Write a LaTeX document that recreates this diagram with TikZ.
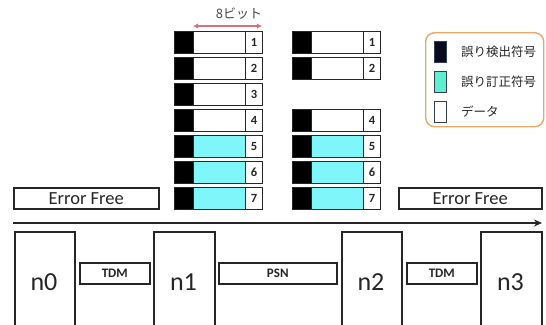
\documentclass[tikz,border=0pt]{standalone}
\usepackage{fontspec}
\setmainfont{Carlito}
\newfontfamily\jpfont{Noto Sans CJK JP}
\usetikzlibrary{arrows.meta}
\definecolor{ink}{HTML}{262626}
\definecolor{datacyan}{HTML}{7FF6F9}
\definecolor{legcyan}{HTML}{5EF0CC}
\definecolor{legblack}{HTML}{0A0A1E}
\definecolor{legedge}{HTML}{34405A}
\definecolor{legframe}{HTML}{E8A868}
\definecolor{bitarrow}{HTML}{D8707C}
\tikzset{
  cellbase/.style={draw=ink, line width=1.3pt, inner sep=0pt, anchor=north west, minimum height=22pt},
  cellblk/.style={cellbase, fill=black, minimum width=19pt},
  celldat/.style={cellbase, minimum width=52pt},
  cellnum/.style={cellbase, fill=white, minimum width=17pt, font=\fontsize{12.5}{12.5}\selectfont\bfseries, text=ink},
  wbox/.style={draw=ink, line width=1.5pt, fill=white, inner sep=0pt, anchor=north west},
  legsq/.style={draw=legedge, line width=1pt, inner sep=0pt, anchor=north west, minimum width=12pt, minimum height=21pt},
  legtxt/.style={anchor=west, inner sep=0pt, font=\jpfont\fontsize{12.5}{12.5}\selectfont, text=ink},
  nlabel/.style={font=\fontsize{26}{26}\selectfont, text=ink, inner sep=0pt},
  linkbox/.style={wbox, minimum height=21pt, font=\fontsize{13}{13}\selectfont\bfseries, text=ink},
  efbox/.style={wbox, minimum height=21pt, font=\fontsize{18.5}{18.5}\selectfont, text=ink},
}
\begin{document}
\begin{tikzpicture}[x=1pt,y=-1pt]
\useasboundingbox (0,0) rectangle (546,324);
\begin{scope}
\clip (0,0) rectangle (546,324);
% block A
\foreach \k/\f in {1/white,2/white,3/white,4/white,5/datacyan,6/datacyan,7/datacyan}{
  \pgfmathsetmacro\yy{31+26*(\k-1)}
  \node[cellblk] (ab\k) at (174,\yy) {};
  \node[celldat, fill=\f] (ad\k) at (193,\yy) {};
  \node[cellnum] (an\k) at (245,\yy) {\k};
}
% block B
\foreach \k/\f in {1/white,2/white,4/white,5/datacyan,6/datacyan,7/datacyan}{
  \pgfmathsetmacro\yy{31+26*(\k-1)}
  \node[cellblk] (bb\k) at (292,\yy) {};
  \node[celldat, fill=\f] (bd\k) at (311,\yy) {};
  \node[cellnum] (bn\k) at (363,\yy) {\k};
}
% 8 bit arrow
\coordinate (bitl) at (193,26);
\coordinate (bitr) at (262,26);
\draw[bitarrow, line width=1.6pt, {Latex[length=5pt,width=5.5pt]}-{Latex[length=5pt,width=5.5pt]}] (bitl) -- (bitr);
\node[font=\jpfont\fontsize{13}{13}\selectfont, text=ink!85, inner sep=0pt] (bitlbl) at (239,14) {8ビット};
% legend
\node[draw=legframe, line width=1.4pt, rounded corners=9pt, anchor=north west, minimum width=118pt, minimum height=94pt, inner sep=0pt] (legend) at (425,32) {};
\node[legsq, fill=legblack] (lg1) at (434,41) {};
\node[legsq, fill=legcyan] (lg2) at (434,71) {};
\node[legsq, fill=white] (lg3) at (434,101) {};
\node[legtxt] (lt1) at (461,51.5) {誤り検出符号};
\node[legtxt] (lt2) at (461,81.5) {誤り訂正符号};
\node[legtxt] (lt3) at (461,111.5) {データ};
% error free
\node[efbox, minimum width=145pt] (efl) at (13,187) {Error Free};
\node[efbox, minimum width=143pt] (efr) at (398,187) {Error Free};
% time line
\coordinate (tl) at (13,223);
\coordinate (tr) at (542,223);
\draw[ink, line width=2pt, -{Stealth[length=8pt,width=7pt]}] (tl) -- (tr);
% nodes
\node[wbox, minimum width=60pt, minimum height=110pt] (n0) at (14,231) {};
\node[wbox, minimum width=61pt, minimum height=110pt] (n1) at (153,231) {};
\node[wbox, minimum width=60pt, minimum height=110pt] (n2) at (341,231) {};
\node[wbox, minimum width=61pt, minimum height=110pt] (n3) at (480,231) {};
\node[nlabel] (t0) at (44,282) {n0};
\node[nlabel] (t1) at (183.5,282) {n1};
\node[nlabel] (t2) at (371,282) {n2};
\node[nlabel] (t3) at (510.5,282) {n3};
% links
\node[linkbox, minimum width=70pt] (tdm1) at (79,262) {TDM};
\node[linkbox, minimum width=118pt] (psn) at (218,262) {PSN};
\node[linkbox, minimum width=70pt] (tdm2) at (406,262) {TDM};
\end{scope}
\end{tikzpicture}
\end{document}
